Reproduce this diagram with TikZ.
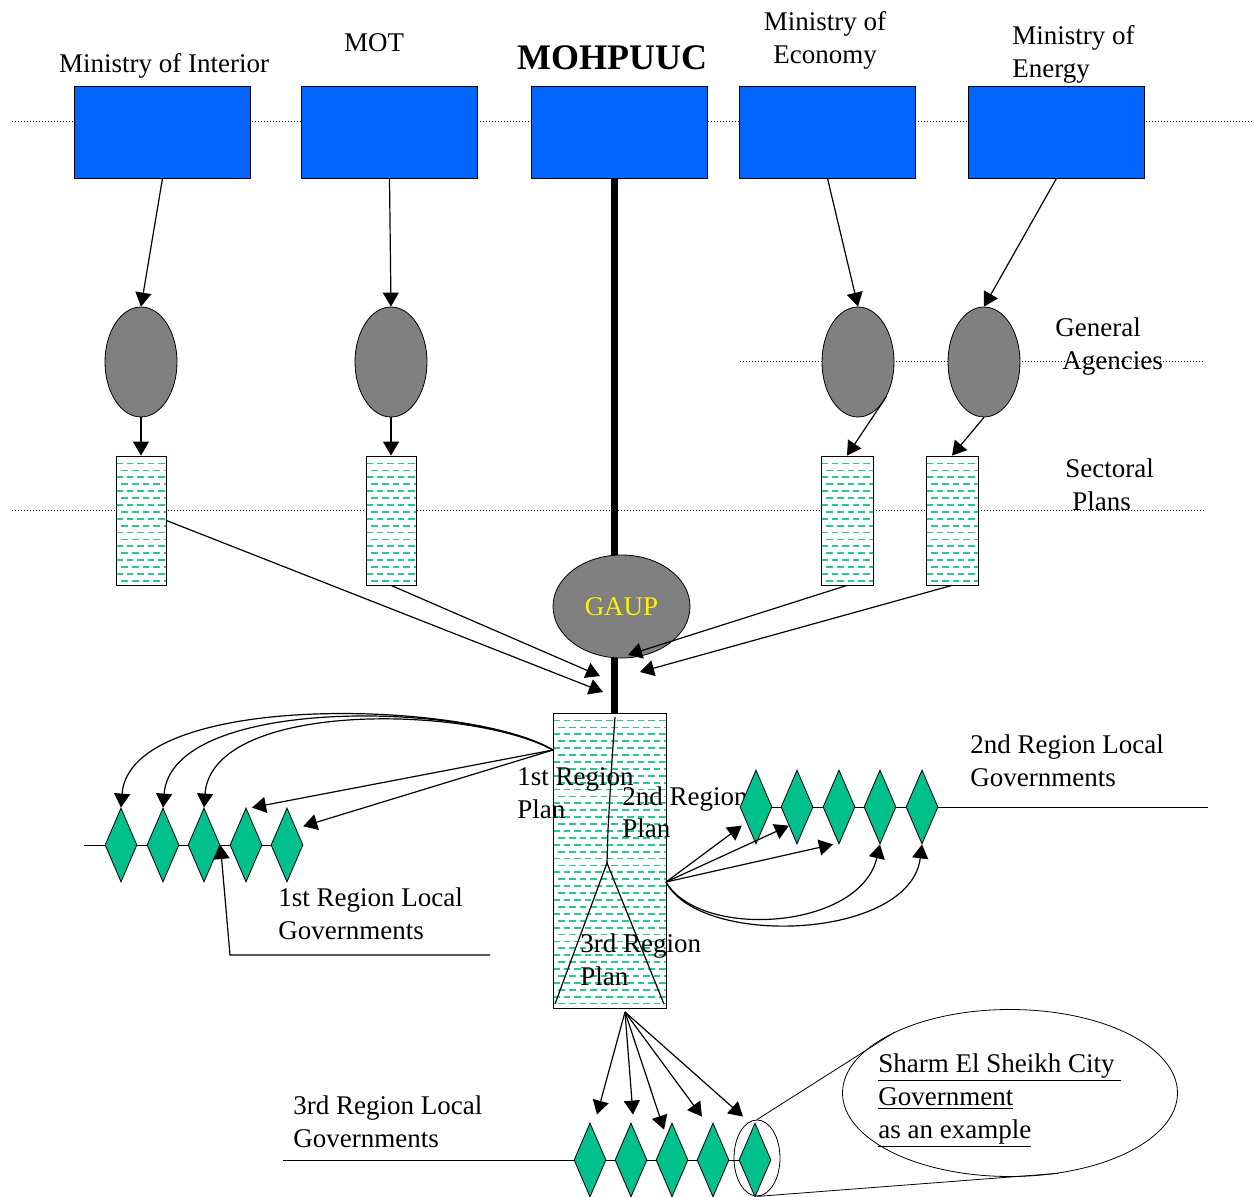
\documentclass[tikz,border=0pt]{standalone}
\usepackage{fontspec}
\setmainfont{Liberation Serif}
\usetikzlibrary{shapes.geometric,arrows.meta}
\definecolor{minblue}{RGB}{0,102,255}
\definecolor{agrey}{RGB}{128,128,128}
\definecolor{govgreen}{RGB}{0,192,140}
\definecolor{hatchc}{RGB}{40,200,150}
\newcommand{\lblfont}{\fontsize{13.5}{16.5}\selectfont}
\begin{document}
\begin{tikzpicture}[x=0.5pt, y=-0.5pt, font=\lblfont,
    ministry/.style={draw, fill=minblue, minimum width=88pt, minimum height=46pt, inner sep=0pt},
    agency/.style={ellipse, draw, fill=agrey, minimum width=36pt, minimum height=55pt, inner sep=0pt},
    hatch/.style={draw=hatchc, line width=0.9pt, dash pattern=on 3.3pt off 2pt},
    plan/.style={draw, fill=white, inner sep=0pt, path picture={
        \foreach \k in {0,...,45}
          \draw[hatch] ([xshift={-mod(\k,2)*2.65pt}, yshift={-3.8pt-\k*3.45pt}]path picture bounding box.north west) -- ++(130pt,0pt);}},
    gov/.style={diamond, draw, fill=govgreen, inner sep=0pt, minimum width=16pt, minimum height=37pt},
    arr/.style={line width=0.6pt, -{Triangle[length=7pt,width=8pt]}},
    txt/.style={align=left, anchor=base west, inner sep=0pt},
    dots/.style={densely dotted, line width=0.5pt}]
  \useasboundingbox (0,0) rectangle (1254,1197);
  \draw[dots] (12,122) -- (1254,122); % ministries
  \draw[dots] (740,362) -- (1205,362); % agencies
  \draw[dots] (12,511) -- (1205,511); % sectoral plans
  % ministries
  \node[ministry] (moi) at (162.5,132) {}
  node[ministry] (mot) at (389.5,132) {}
  node[ministry] (moh) at (619.5,132) {}
  node[ministry] (moe) at (827.5,132) {}
  node[ministry] (moen) at (1056.5,132) {};
  \node[anchor=base, inner sep=0pt] (moi-l) at (164,73) {Ministry of Interior};
  \node[anchor=base, inner sep=0pt] (mot-l) at (374,52) {MOT};
  \node[anchor=base, inner sep=0pt, font=\fontsize{18}{20}\selectfont\bfseries] (moh-l) at (612,70) {MOHPUUC};
  \node[anchor=base, inner sep=0pt, align=center] (moe-l) at (825,64) {Ministry of\\Economy};
  \node[txt] (moen-l) at (1012,78) {Ministry of\\Energy};
  % general agencies and sectoral plans
  \node[agency] (ga1) at (141,362) {}
  node[agency] (ga2) at (391,362) {}
  node[agency] (ga3) at (858,362) {}
  node[agency] (ga4) at (984,362) {};
  \node[txt] (ga-l) at (1055,370) {General\\\hspace*{3.5pt}Agencies};
  \node[plan, minimum width=25pt, minimum height=64.5pt] (sp1) at (141,520.5) {}
  node[plan, minimum width=25pt, minimum height=64.5pt] (sp2) at (391,520.5) {}
  node[plan, minimum width=26pt, minimum height=64.5pt] (sp3) at (847,520.5) {}
  node[plan, minimum width=26pt, minimum height=64.5pt] (sp4) at (952,520.5) {};
  \node[txt] (sp-l) at (1065,511) {Sectoral\\\hspace*{3.5pt}Plans};
  \draw[arr] (moi.south) -- (ga1.north);
  \draw[arr] (mot.south) -- (ga2.north);
  \draw[arr] (moe.south) -- (ga3.north);
  \draw[arr] (moen.south) -- (ga4.north);
  \draw[arr] (ga1.south) -- (sp1.north);
  \draw[arr] (ga2.south) -- (sp2.north);
  \draw[arr] (ga3.-50) -- (sp3.north);
  \draw[arr] (ga4.south) -- (sp4.north);
  % regional plan
  \node[plan, minimum width=56.5pt, minimum height=147.5pt] (rplan) at (609.5,860.5) {};
  \draw[line width=3.5pt] ([xshift=-2.75pt]moh.south) -- ([xshift=2.25pt]rplan.north);
  \node[agency, minimum width=68.5pt, minimum height=51.5pt, text=yellow] (gaup) at (621.5,606.5) {GAUP};
  \coordinate (j1) at (603,692);
  \coordinate (j2) at (600,676);
  \coordinate (j3) at (628,655);
  \coordinate (j4) at (640,672);
  \draw[arr] (sp1.east) -- (j1);
  \draw[arr] (sp2.south) -- (j2);
  \draw[arr] (sp3.south) -- (j3);
  \draw[arr] (sp4.south) -- (j4);
  \draw[line width=0.6pt] (615,717) -- (612,760) -- (608,830) -- (607,863);
  \draw[line width=0.6pt] (555,1004) -- (607,863) -- (664,1004);
  \node[txt] (r1-l) at (517,819) {1st Region\\Plan};
  \node[txt] (r2-l) at (622,838) {2nd Region\\Plan};
  \node[txt] (r3-l) at (580,985) {3rd Region\\Plan};
  % local governments
  \draw (84,845) -- (300,845);
  \draw (740,807) -- (1208,807);
  \draw (283,1160) -- (755,1160);
  \foreach \x [count=\i] in {121,163,204,246,287}
    \node[gov] (dl\i) at (\x,845) {};
  \foreach \x [count=\i] in {756,797,839,880,922}
    \node[gov] (dr\i) at (\x,807) {};
  \foreach \x [count=\i] in {590,631,672,713,755}
    \node[gov] (db\i) at (\x,1160) {};
  \node[txt] (dl-l) at (278,939) {1st Region Local\\Governments};
  \node[txt] (dr-l) at (970,787) {2nd Region Local\\Governments};
  \node[txt] (db-l) at (293,1147) {3rd Region Local\\Governments};
  \coordinate (pw) at (553,750);
  \coordinate (pe) at (666,882);
  \coordinate (ps) at (625,1012);
  \coordinate (lg) at (490,955);
  \draw[arr] (pw) .. controls (470,700) and (130,690) .. (dl1.north);
  \draw[arr] (pw) .. controls (470,702) and (172,695) .. (dl2.north);
  \draw[arr] (pw) .. controls (470,705) and (212,700) .. (dl3.north);
  \draw[arr] (pw) -- ([xshift=3pt]dl4.north);
  \draw[arr] (pw) -- ([xshift=4pt]dl5.north east);
  \draw[arr] (lg) -- ++(-260,0) -- (dl3.east);
  \draw[arr] (pe) -- ([xshift=-3pt]dr1.south west);
  \draw[arr] (pe) -- (dr2.south west);
  \draw[arr] (pe) -- ([xshift=-3pt]dr3.south);
  \draw[arr] (pe) .. controls (700,940) and (860,930) .. (dr4.south);
  \draw[arr] (pe) .. controls (700,948) and (910,940) .. (dr5.south);
  \draw[arr] (ps) -- ([shift={(3.5pt,4pt)}]db1.north);
  \draw[arr] (ps) -- ([shift={(1pt,4pt)}]db2.north);
  \draw[arr] (ps) -- ([shift={(-4pt,-3.5pt)}]db3.north);
  \draw[arr] (ps) -- ([shift={(-5.5pt,3pt)}]db4.north);
  \draw[arr] (ps) -- ([shift={(-6pt,3pt)}]db5.north);
  % example city
  \node[ellipse, draw, inner sep=0pt, minimum width=23pt, minimum height=38pt] (ex) at (757,1158) {};
  \node[ellipse, draw, inner sep=0pt, minimum width=167.5pt, minimum height=83.5pt] (sharm) at (1010,1093) {};
  \draw (ex.north) -- (sharm.152);
  \draw (ex.south) -- (sharm.-59);
  \node[txt] (sharm-l) at (878,1138) {\underline{Sharm El Sheikh City\ }\\\underline{Government}\\\underline{as an example}};
\end{tikzpicture}
\end{document}
